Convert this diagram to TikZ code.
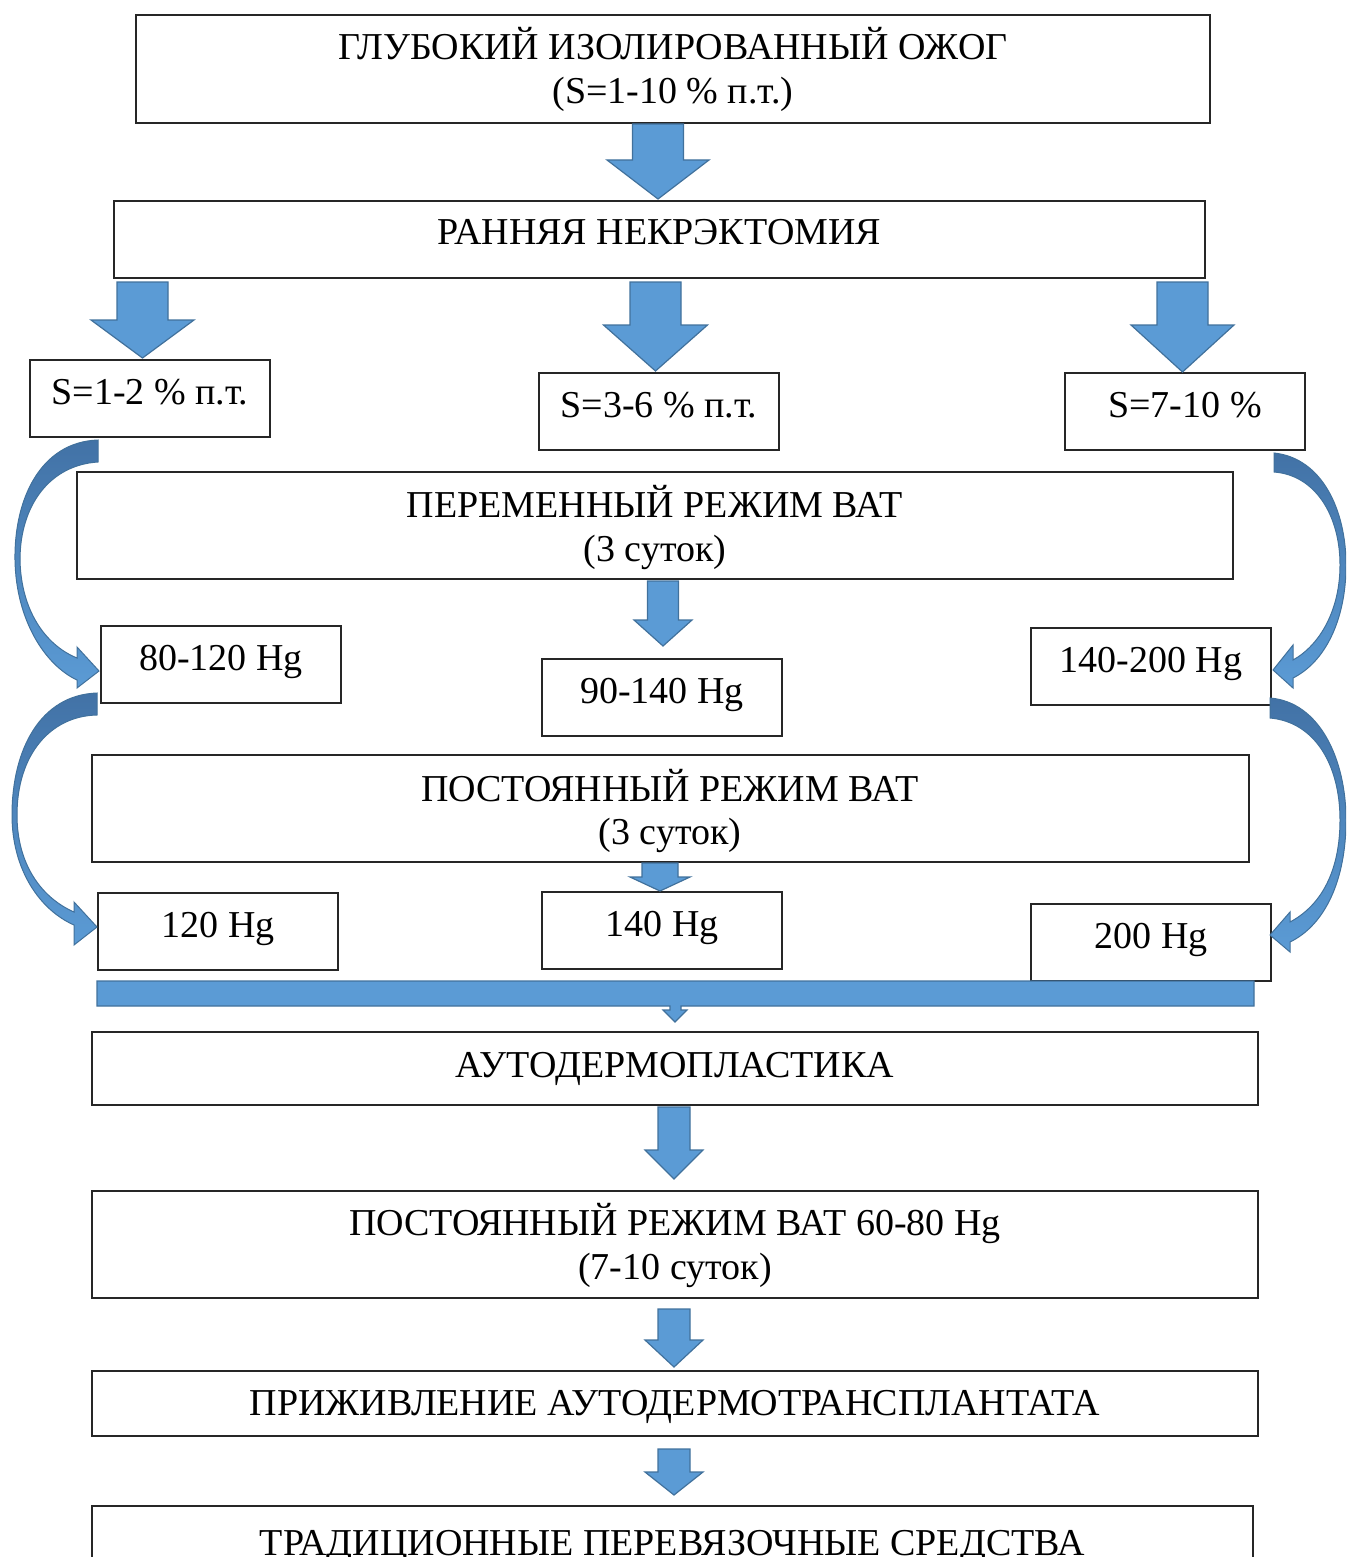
\documentclass[tikz,border=0pt]{standalone}
\usepackage{fontspec}
\setmainfont{Liberation Serif}
\definecolor{afill}{RGB}{91,155,213}
\definecolor{aline}{RGB}{65,113,156}
\definecolor{adark}{RGB}{66,114,166}
\tikzset{
  box/.style={draw=black!85, line width=0.7pt, fill=white, inner sep=0pt, outer sep=0pt},
  txt/.style={inner sep=0pt, outer sep=0pt, anchor=base, font=\fontsize{19}{23}\selectfont},
  barrow/.style={fill=afill, draw=aline, line width=0.6pt, line join=miter},
  carrow/.style={top color=adark, bottom color=afill, draw=aline, line width=0.5pt, line join=miter}
}
\newcommand\bx[5]{\node[box,minimum width={(#3-#2)*0.5pt},minimum height={(#5-#4)*0.5pt}] (#1) at ({(#2+#3)/2},{(#4+#5)/2}) {};}
\newcommand\darrow[6]{\path[barrow] ({#1-#2},#4) -- ({#1+#2},#4) -- ({#1+#2},#5) -- ({#1+#3},#5) -- (#1,#6) -- ({#1-#3},#5) -- ({#1-#2},#5) -- cycle;}
\begin{document}
\begin{tikzpicture}[x=0.5pt,y=-0.5pt]
\useasboundingbox (0,0) rectangle (1346,1557);
\clip (0,0) rectangle (1346,1557);
% boxes
\bx{b1}{136}{1210}{15}{123}
\bx{b2}{114}{1205}{201}{278}
\bx{s1}{30}{270}{360}{437}
\bx{s2}{539}{779}{373}{450}
\bx{s3}{1065}{1305}{373}{450}
\bx{v}{77}{1233}{472}{579}
\bx{h1}{101}{341}{626}{703}
\bx{h2}{542}{782}{659}{736}
\bx{h3}{1031}{1271}{628}{705}
\bx{p}{92}{1249}{755}{862}
\bx{c1}{98}{338}{893}{970}
\bx{c2}{542}{782}{892}{969}
\bx{c3}{1031}{1271}{904}{981}
\bx{ad}{92}{1258}{1032}{1105}
\bx{p2}{92}{1258}{1191}{1298}
\bx{pr}{92}{1258}{1371}{1436}
\bx{tr}{92}{1253}{1506}{1620}
% texts
\node[txt] (t1a) at (673,60) {ГЛУБОКИЙ ИЗОЛИРОВАННЫЙ ОЖОГ};
\node[txt] (t1b) at (673,104) {(S=1-10 \% п.т.)};
\node[txt] (t2) at (659.5,245) {РАННЯЯ НЕКРЭКТОМИЯ};
\node[txt] (ts1) at (150,404) {S=1-2 \% п.т.};
\node[txt] (ts2) at (659,417) {S=3-6 \% п.т.};
\node[txt] (ts3) at (1185,417) {S=7-10 \%};
\node[txt] (tva) at (655,517) {ПЕРЕМЕННЫЙ РЕЖИМ ВАТ};
\node[txt] (tvb) at (655,561) {(3 суток)};
\node[txt] (th1) at (221,670) {80-120 Hg};
\node[txt] (th2) at (662,703) {90-140 Hg};
\node[txt] (th3) at (1151,672) {140-200 Hg};
\node[txt] (tpa) at (670,801) {ПОСТОЯННЫЙ РЕЖИМ ВАТ};
\node[txt] (tpb) at (670,844) {(3 суток)};
\node[txt] (tc1) at (218,937) {120 Hg};
\node[txt] (tc2) at (662,936) {140 Hg};
\node[txt] (tc3) at (1151,948) {200 Hg};
\node[txt] (tad) at (675,1077) {АУТОДЕРМОПЛАСТИКА};
\node[txt] (tp2a) at (675,1235) {ПОСТОЯННЫЙ РЕЖИМ ВАТ 60-80 Hg};
\node[txt] (tp2b) at (675,1279) {(7-10 суток)};
\node[txt] (tpr) at (675,1415) {ПРИЖИВЛЕНИЕ АУТОДЕРМОТРАНСПЛАНТАТА};
\node[txt] (ttr) at (672.5,1555) {ТРАДИЦИОННЫЕ ПЕРЕВЯЗОЧНЫЕ СРЕДСТВА};
% straight block arrows
\darrow{658}{25.5}{51}{124}{160}{199}
\darrow{142.5}{25.5}{51.5}{282}{320}{358}
\darrow{655.5}{25.5}{52}{282}{325}{371}
\darrow{1182.5}{25.5}{51.5}{282}{325}{372}
\darrow{663}{15.5}{29}{581}{620}{646}
\darrow{660}{18}{30}{863}{877}{891}
\darrow{674}{16}{29}{1107}{1150}{1179}
\darrow{674}{16}{29}{1309}{1340}{1367}
\darrow{674}{16}{29}{1449}{1472}{1495}
% wide bar arrow
\path[barrow] (97,981) -- (1254,981) -- (1254,1006) -- (681,1006) -- (681,1010) -- (687,1010) -- (675,1022) -- (663,1010) -- (670,1010) -- (670,1006) -- (97,1006) -- cycle;
% curved arrows
\path[carrow] (98,440) .. controls (40,442) and (14,500) .. (15,560) .. controls (16,620) and (45,665) .. (77,680)
  -- (77,688) -- (99,671) -- (77,647) -- (77,658)
  .. controls (45,645) and (21,610) .. (20,560) .. controls (20,505) and (50,465) .. (98,462) -- cycle;
\path[carrow] (97,693) .. controls (40,695) and (12,750) .. (12,815) .. controls (12,870) and (40,910) .. (74,925)
  -- (74,945) -- (97,927) -- (74,902) -- (74,912)
  .. controls (42,898) and (17,865) .. (17,815) .. controls (17,755) and (50,716) .. (97,715) -- cycle;
\path[carrow] (1274,453) .. controls (1322,458) and (1346,510) .. (1346,565) .. controls (1346,620) and (1325,662) .. (1293,678)
  -- (1293,688) -- (1273,670) -- (1293,645) -- (1293,660)
  .. controls (1320,645) and (1340,610) .. (1340,565) .. controls (1340,515) and (1315,475) .. (1274,472) -- cycle;
\path[carrow] (1270,698) .. controls (1320,702) and (1346,760) .. (1346,820) .. controls (1346,880) and (1325,925) .. (1290,942)
  -- (1290,952) -- (1270,935) -- (1290,912) -- (1290,922)
  .. controls (1322,905) and (1340,870) .. (1340,820) .. controls (1340,765) and (1315,722) .. (1270,718) -- cycle;
\end{tikzpicture}
\end{document}
